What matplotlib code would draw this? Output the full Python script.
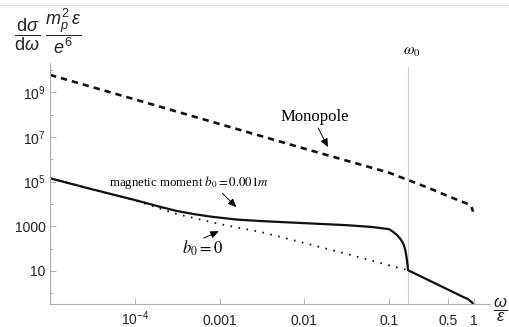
import matplotlib
matplotlib.use('Agg')
import matplotlib.pyplot as plt
from matplotlib.lines import Line2D
from matplotlib.ticker import FixedLocator, NullLocator

plt.rcParams['font.family'] = ['Liberation Sans', 'DejaVu Sans']
plt.rcParams['mathtext.fontset'] = 'custom'
plt.rcParams['mathtext.rm'] = 'Liberation Sans'
plt.rcParams['mathtext.it'] = 'Liberation Sans:italic'
plt.rcParams['mathtext.bf'] = 'Liberation Sans:bold'

# monopole curve (dashed)
mono_x = [1e-5, 1e-4, 1e-3, 1e-2, 0.1, 0.168, 0.3, 0.5, 0.82, 0.93, 0.98]
mono_y = [6.0e9, 4.8e8, 3.8e7, 3.0e6, 2.5e5, 1.17e5, 5.0e4, 2.2e4, 1.05e4, 7.9e3, 4.5e3]

# magnetic moment b0 = 0.001m (solid)
mag_x = [1e-5, 3.16e-5, 1e-4, 2e-4, 3.16e-4, 5e-4, 7.9e-4, 1.58e-3, 3.16e-3, 1e-2,
         3.16e-2, 6.3e-2, 0.1, 0.112, 0.126, 0.138, 0.148, 0.155, 0.160, 0.164, 0.168,
         0.75, 0.86, 0.946, 0.975, 1.0]
mag_y = [1.41e5, 4.5e4, 1.5e4, 7.4e3, 4.8e3, 3.5e3, 2.7e3, 2.0e3, 1.7e3, 1.38e3,
         1.12e3, 930, 740, 560, 380, 250, 158, 89, 45, 22, 10.7,
         0.68, 0.54, 0.40, 0.33, 0.26]

# b0 = 0 (dotted)
b0_x = [1e-5, 3.16e-5, 1e-4, 3.16e-4, 1e-3, 3.16e-3, 1e-2, 3.16e-2, 0.1, 0.168]
b0_y = [1.41e5, 4.5e4, 1.45e4, 3.5e3, 1.26e3, 540, 178, 58, 17.8, 10.7]

omega0 = 0.168

xticks = [1e-4, 1e-3, 1e-2, 0.1, 0.5, 1]
xlabels = ['$10^{-4}$', '0.001', '0.01', '0.1', '0.5', '1']
yticks = [10, 1000, 1e5, 1e7, 1e9]
ylabels = ['10', '1000', '$10^5$', '$10^7$', '$10^9$']
yminor = [1, 100, 1e4, 1e6, 1e8, 1e10]

fig = plt.figure(figsize=(5.09, 3.27), dpi=100)
ax = fig.add_axes([50/509, 23/327, 440/509, 241/327])
ax.set_xscale('log')
ax.set_yscale('log')
ax.set_xlim(1e-5, 1.55)
ax.set_ylim(0.331, 2.04e10)

# omega0 line
ax.plot([omega0, omega0], [0.331, 1.35e10], color='#cfcfcf', lw=0.8, zorder=1)

line, = ax.plot(mono_x, mono_y, color='#111111', lw=1.9)
line.set_dashes((2.4, 1.9))
ax.plot(b0_x, b0_y, color='#111111', lw=1.3, linestyle=(0, (0.9, 3.6)))
ax.plot(mag_x, mag_y, color='#111111', lw=1.6)

for s in ['top', 'right']:
    ax.spines[s].set_visible(False)
for s in ['left', 'bottom']:
    ax.spines[s].set_color('#b0b0b0')
    ax.spines[s].set_linewidth(0.8)

ax.xaxis.set_major_locator(FixedLocator(xticks))
ax.xaxis.set_minor_locator(NullLocator())
ax.set_xticklabels(xlabels)
ax.yaxis.set_major_locator(FixedLocator(yticks))
ax.yaxis.set_minor_locator(FixedLocator(yminor))
ax.set_yticklabels(ylabels)
ax.yaxis.set_minor_formatter(plt.NullFormatter())

ax.tick_params(which='major', direction='in', length=4, width=0.7, color='#b0b0b0',
               labelsize=10, labelcolor='#222222')
ax.tick_params(which='minor', direction='in', length=2.5, width=0.6, color='#b0b0b0')
ax.tick_params(axis='y', pad=3)
ax.tick_params(axis='x', pad=15)
for t in ax.get_xticklabels():
    t.set_verticalalignment('baseline')

serif = ['Liberation Serif', 'DejaVu Serif']
arrow = dict(arrowstyle='-|>,head_length=0.5,head_width=0.22', color='black', lw=0.7,
             shrinkA=0, shrinkB=0)

ax.text(4.3e-4, 9.5e4, 'magnetic moment $b_0 = 0.001m$', family=serif, fontsize=9.3,
        math_fontfamily='stix', ha='center', va='center')
ax.annotate('', xy=(1.58e-3, 7.2e3), xytext=(1.08e-3, 3.0e4), arrowprops=arrow)

ax.text(6.3e-4, 105, '$b_0 = 0$', fontsize=12, math_fontfamily='stix',
        ha='center', va='center')
ax.annotate('', xy=(9.8e-4, 600), xytext=(6.5e-4, 295), arrowprops=arrow)

ax.text(0.0132, 7.8e7, 'Monopole', family=serif, fontsize=12, ha='center', va='center')
ax.annotate('', xy=(0.019, 3.5e6), xytext=(0.0146, 2.5e7), arrowprops=arrow)

ax.text(0.186, 6.5e10, r'$\omega_0$', fontsize=11, math_fontfamily='stix',
        ha='center', va='center', clip_on=False)

# axis labels
fig.text(48/509, 1 - 31/327, r'$\dfrac{\mathrm{d}\sigma}{\mathrm{d}\omega}\ \dfrac{m_p^2\,\epsilon}{e^6}$',
         fontsize=13, ha='center', va='center', color='#222222')
fig.text(500/509, 1 - 310/327, r'$\dfrac{\omega}{\epsilon}$', fontsize=12,
         ha='center', va='center', color='#222222')

fig.add_artist(Line2D([0, 1], [1 - 5/327, 1 - 5/327], color='#e2e2e2', lw=0.8))

fig.savefig('out.png', dpi=100)
